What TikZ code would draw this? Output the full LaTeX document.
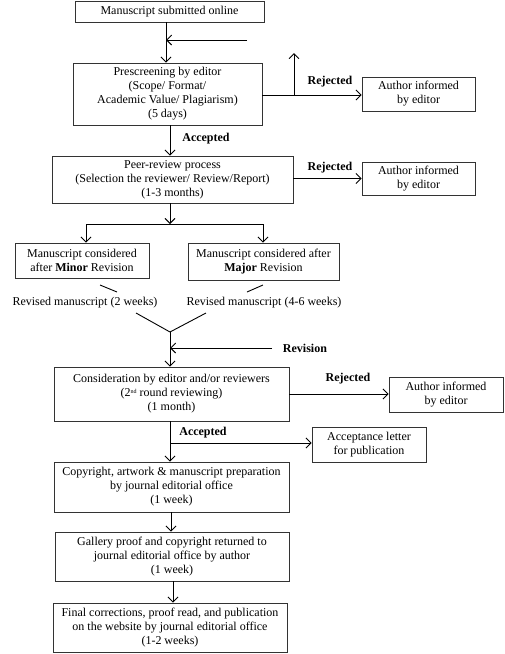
\documentclass[tikz,border=0pt]{standalone}
\usepackage{fontspec}
\setmainfont{Liberation Serif}
\usetikzlibrary{arrows.meta}
\begin{document}
\begin{tikzpicture}[x=1pt,y=-1pt,
  box/.style={draw=black!80,line width=0.9pt,rectangle,inner sep=0pt,align=center,font=\fontsize{12}{14}\selectfont},
  lbl/.style={font=\fontsize{12}{14}\selectfont\bfseries,inner sep=0pt},
  txt/.style={font=\fontsize{12}{14}\selectfont,inner sep=0pt},
  arr/.style={line width=0.9pt,-{Straight Barb[length=5pt,width=10pt,line width=0.9pt]}},
  ln/.style={line width=0.9pt}]
\useasboundingbox (0,0) rectangle (504,654);
\node[box,minimum width=189pt,minimum height=21pt] (b1) at (169.5,11.5) {Manuscript submitted online};
\node[box,minimum width=189pt,minimum height=62pt] (b2) at (167.5,94) {Prescreening by editor\\(Scope/ Format/\\Academic Value/ Plagiarism)\\(5 days)};
\node[box,minimum width=113pt,minimum height=34pt] (a1) at (418.5,94) {Author informed\\by editor};
\node[box,minimum width=241pt,minimum height=47pt] (b3) at (172.5,179.5) {Peer-review process\\(Selection the reviewer/ Review/Report)\\(1-3 months)};
\node[box,minimum width=113pt,minimum height=33pt] (a2) at (418.5,178.5) {Author informed\\by editor};
\node[box,minimum width=134pt,minimum height=35pt] (minor) at (82,260.5) {Manuscript considered\\after \textbf{Minor} Revision};
\node[box,minimum width=151pt,minimum height=37pt] (major) at (263.5,261.5) {Manuscript considered after\\\textbf{Major} Revision};
\node[txt] (rev1) at (85,303) {Revised manuscript (2 weeks)};
\node[txt] (rev2) at (264,303) {Revised manuscript (4-6 weeks)};
\node[box,minimum width=235pt,minimum height=54pt] (cons) at (171.5,394) {Consideration by editor and/or reviewers\\(2\raisebox{3pt}{\fontsize{6}{6}\selectfont nd} round reviewing)\\(1 month)};
\node[box,minimum width=114pt,minimum height=35pt] (a3) at (446,394.5) {Author informed\\by editor};
\node[box,minimum width=114pt,minimum height=35pt] (acc) at (369,444.5) {Acceptance letter\\for publication};
\node[box,minimum width=235pt,minimum height=50pt] (copy) at (171.5,487) {Copyright, artwork \& manuscript preparation\\by journal editorial office\\(1 week)};
\node[box,minimum width=234pt,minimum height=49pt] (gal) at (172,556.5) {Gallery proof and copyright returned to\\journal editorial office by author\\(1 week)};
\node[box,minimum width=234pt,minimum height=49pt] (fin) at (170,627.5) {Final corrections, proof read, and publication\\on the website by journal editorial office\\(1-2 weeks)};
% labels
\node[lbl] (rj1) at (330,82) {Rejected};
\node[lbl] (rj2) at (330,168) {Rejected};
\node[lbl] (rj3) at (348,379) {Rejected};
\node[lbl] (ac1) at (206,139) {Accepted};
\node[lbl] (ac2) at (203,433) {Accepted};
\node[lbl] (rv) at (305,348) {Revision};
% coordinates
\coordinate (s1) at (166,22);
\coordinate (in1) at (247,40);
\coordinate (m1) at (166,40);
\coordinate (up) at (294,53);
\coordinate (r1) at (294,95);
\coordinate (s2) at (170,125);
\coordinate (s3) at (170,203);
\coordinate (sp) at (170,224);
\coordinate (spl) at (86,224);
\coordinate (spr) at (263,224);
\coordinate (j) at (170,332);
\coordinate (rin) at (272,348);
\coordinate (rm) at (170,348);
\coordinate (s4) at (170,421);
\coordinate (acm) at (170,443);
% connectors
\draw[arr] (s1) -- (s1 |- b2.north);
\draw[arr] (in1) -- (m1);
\draw[arr] (b2.east |- r1) -- (a1.west |- r1);
\draw[arr] (r1) -- (up);
\draw[arr] (s2) -- (s2 |- b3.north);
\draw[arr] (b3.east |- a2) -- (a2.west);
\draw[arr] (s3) -- (sp);
\draw[ln] (spl) -- (spr);
\draw[arr] (spl) -- (spl |- minor.north);
\draw[arr] (spr) -- (spr |- major.north);
\draw[ln] (100,285) -- (117,292);
\draw[ln] (263,285) -- (247,292);
\draw[ln] (136,313) -- (j);
\draw[ln] (206,313) -- (j);
\draw[arr] (j) -- (j |- cons.north);
\draw[arr] (rin) -- (rm);
\draw[arr] (cons.east) -- (a3.west |- cons.east);
\draw[arr] (s4) -- (s4 |- copy.north);
\draw[arr] (acm) -- (acc.west |- acm);
\draw[arr] (copy.south -| 171,0) -- (gal.north -| 171,0);
\draw[arr] (gal.south -| 173,0) -- (fin.north -| 173,0);
\end{tikzpicture}
\end{document}
